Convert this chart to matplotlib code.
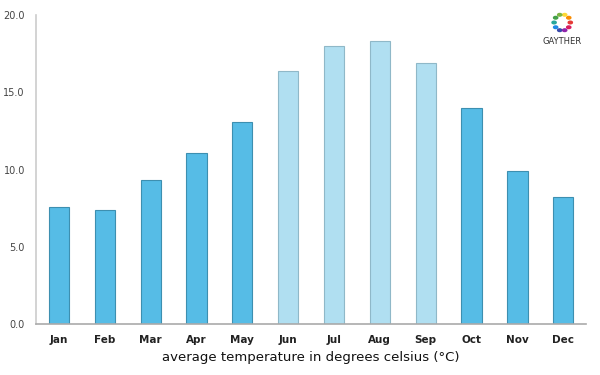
import matplotlib
matplotlib.use("Agg")
import matplotlib.pyplot as plt
import numpy as np

months = ["Jan", "Feb", "Mar", "Apr", "May", "Jun", "Jul", "Aug", "Sep", "Oct", "Nov", "Dec"]
temps = [7.6, 7.4, 9.3, 11.1, 13.1, 16.4, 18.0, 18.3, 16.9, 14.0, 9.9, 8.2]
summer = [False, False, False, False, False, True, True, True, True, False, False, False]
yticks = [0.0, 5.0, 10.0, 15.0, 20.0]

dark = "#56BCE6"
light = "#B0DFF1"

fig = plt.figure(figsize=(6, 3.75), dpi=100)
ax = fig.add_axes([0.06, 0.136, 0.917, 0.824])
x = np.arange(len(months))
colors = [light if s else dark for s in summer]
edges = ["#8fb8c8" if s else "#3d8fb0" for s in summer]
ax.bar(x, temps, width=0.44, color=colors, edgecolor=edges, linewidth=0.8)
ax.set_xlim(-0.5, 11.5)
ax.set_ylim(0, 20)
ax.set_yticks(yticks)
ax.set_yticklabels([f"{v:.1f}" for v in yticks], fontsize=7, color="#444444")
ax.set_xticks(x)
ax.set_xticklabels(months, fontsize=7.5, fontweight="semibold", color="#222222")
ax.tick_params(length=0, pad=8)
ax.tick_params(axis="y", pad=8)
for s in ["top", "right"]:
    ax.spines[s].set_visible(False)
ax.spines["left"].set_color("#cccccc")
ax.spines["left"].set_linewidth(1.2)
ax.spines["bottom"].set_color("#aaaaaa")
ax.spines["bottom"].set_linewidth(1.2)
ax.set_xlabel("average temperature in degrees celsius (°C)", fontsize=9.5, labelpad=4, color="#111111")

# logo
logo_colors = ["#e53935", "#fb8c00", "#fdd835", "#7cb342", "#43a047", "#26a69a", "#1e88e5", "#3949ab", "#8e24aa", "#d81b60"]
cx, cy = 0.937, 0.94
rx, ry = 0.0135, 0.0216
for i, c in enumerate(logo_colors):
    a = 2 * np.pi * i / len(logo_colors)
    fig.patches.append(plt.Circle((cx + rx * np.cos(a), cy + ry * np.sin(a)), 0.0035,
                                  transform=fig.transFigure, color=c, figure=fig))
fig.text(cx, 0.888, "GAYTHER", ha="center", va="center", fontsize=6, color="#333333")

fig.savefig("out.png", dpi=100, facecolor="white")
